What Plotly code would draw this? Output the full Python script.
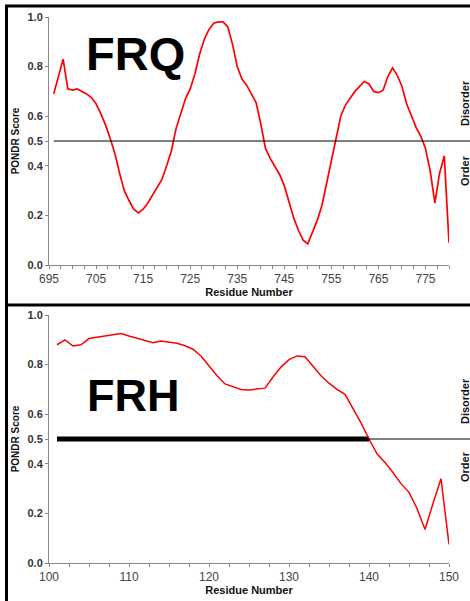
import plotly.graph_objects as go

# ---------------- data ----------------
frq_residues = list(range(696, 781))
frq_scores = [
    0.69, 0.76, 0.83, 0.71, 0.705, 0.71, 0.70, 0.69, 0.675, 0.65,   # 696-705
    0.61, 0.565, 0.51, 0.45, 0.37, 0.30, 0.26, 0.225, 0.21, 0.225,  # 706-715
    0.25, 0.28, 0.31, 0.345, 0.40, 0.46, 0.55, 0.61, 0.67, 0.71,    # 716-725
    0.77, 0.85, 0.91, 0.95, 0.975, 0.98, 0.98, 0.96, 0.89, 0.80,    # 726-735
    0.75, 0.725, 0.69, 0.655, 0.57, 0.47, 0.43, 0.395, 0.365, 0.32, # 736-745
    0.25, 0.19, 0.14, 0.10, 0.085, 0.13, 0.18, 0.24, 0.33, 0.43,    # 746-755
    0.52, 0.60, 0.645, 0.675, 0.70, 0.72, 0.74, 0.73, 0.70, 0.695,  # 756-765
    0.705, 0.76, 0.795, 0.765, 0.72, 0.65, 0.60, 0.555, 0.52, 0.47, # 766-775
    0.38, 0.25, 0.37, 0.44, 0.09,                                   # 776-780
]

frh_residues = list(range(101, 151))
frh_scores = [
    0.88, 0.90, 0.875, 0.88, 0.905, 0.91, 0.915, 0.92, 0.925, 0.915,  # 101-110
    0.905, 0.895, 0.888, 0.895, 0.892, 0.886, 0.876, 0.862, 0.835, 0.795,  # 111-120
    0.755, 0.722, 0.71, 0.70, 0.698, 0.70, 0.705, 0.75, 0.79, 0.82,   # 121-130
    0.835, 0.832, 0.795, 0.755, 0.725, 0.70, 0.68, 0.625, 0.565, 0.50,  # 131-140
    0.44, 0.405, 0.365, 0.32, 0.285, 0.22, 0.135, 0.24, 0.34, 0.075,  # 141-150
]

frh_disorder_region = [101, 140]   # long disordered stretch marked with a thick bar

threshold = 0.5
y_tickvals = [0.0, 0.2, 0.4, 0.5, 0.6, 0.8, 1.0]
y_ticktext = ["0.0", "0.2", "0.4", "0.5", "0.6", "0.8", "1.0"]
frq_range = [695, 780]
frh_range = [100, 150]
panel_names = ["FRQ", "FRH"]

# ---------------- layout geometry ----------------
W, H = 470, 601
ML, MR, MT, MB = 49, 21, 17, 38
PW = W - ML - MR
PH = H - MT - MB


def px_x(px):
    return (px - ML) / PW


def px_y(py):
    return 1 - (py - MT) / PH


top_dom = [px_y(265), 1.0]
bot_dom = [0.0, px_y(315)]

FONT = "Liberation Sans, Arial, Helvetica, sans-serif"
RED = "#ff0000"
AXC = "#8a8a8a"
TXT = "#333333"

fig = go.Figure()

# thick bar over the disordered region (FRH)
fig.add_trace(go.Scatter(
    x=frh_disorder_region, y=[threshold, threshold], xaxis="x2", yaxis="y2",
    mode="lines", line=dict(color="black", width=5), hoverinfo="skip", showlegend=False))

fig.add_trace(go.Scatter(
    x=frq_residues, y=frq_scores, xaxis="x", yaxis="y",
    mode="lines", line=dict(color=RED, width=1.7), showlegend=False))
fig.add_trace(go.Scatter(
    x=frh_residues, y=frh_scores, xaxis="x2", yaxis="y2",
    mode="lines", line=dict(color=RED, width=1.5), showlegend=False))


def xaxis_cfg(rng, anchor):
    return dict(
        range=rng, anchor=anchor, domain=[0, 1],
        tick0=rng[0], dtick=10, ticks="outside", ticklen=3, tickwidth=1, tickcolor=AXC,
        minor=dict(dtick=2.5, tick0=rng[0], ticks="outside", ticklen=3, tickcolor=AXC),
        showline=True, linecolor=AXC, linewidth=1, showgrid=False, zeroline=False,
        tickfont=dict(family=FONT, size=12, color="#444444"),
        title=dict(text="<b>Residue Number</b>", standoff=2,
                   font=dict(family=FONT, size=11, color="#111111")),
    )


def yaxis_cfg(dom, anchor):
    return dict(
        range=[0, 1], domain=dom, anchor=anchor,
        tickvals=y_tickvals, ticktext=[f"<b>{t}</b>" for t in y_ticktext],
        ticks="outside", ticklen=3, tickwidth=1, tickcolor=AXC,
        showline=True, linecolor=AXC, linewidth=1, showgrid=False, zeroline=False,
        tickfont=dict(family=FONT, size=11, color=TXT),
        title=dict(text="<b>PONDR Score</b>", standoff=6,
                   font=dict(family=FONT, size=10, color="#111111")),
    )


shapes = []
# threshold lines running to the right edge of the picture
for first, rng, yref in [(frq_residues[0], frq_range, "y domain"),
                         (frh_residues[0], frh_range, "y2 domain")]:
    x0 = (first - rng[0]) / (rng[1] - rng[0])
    shapes.append(dict(type="line", xref="paper", yref=yref,
                       x0=x0, x1=px_x(W), y0=threshold, y1=threshold,
                       line=dict(color="black", width=1)))

# frame lines (thick black border)
shapes += [
    dict(type="line", xref="paper", yref="paper", x0=px_x(5), x1=px_x(W),
         y0=px_y(6), y1=px_y(6), line=dict(color="black", width=3)),
    dict(type="line", xref="paper", yref="paper", x0=px_x(5), x1=px_x(W),
         y0=px_y(305), y1=px_y(305), line=dict(color="black", width=3)),
    dict(type="line", xref="paper", yref="paper", x0=px_x(6.5), x1=px_x(6.5),
         y0=px_y(5), y1=px_y(H), line=dict(color="black", width=3)),
]

annotations = []
# panel names
annotations.append(dict(text=f"<b>{panel_names[0]}</b>", xref="paper", yref="paper",
                        x=px_x(135), y=px_y(54), showarrow=False,
                        font=dict(family=FONT, size=47, color="black"),
                        xanchor="center", yanchor="middle"))
annotations.append(dict(text=f"<b>{panel_names[1]}</b>", xref="paper", yref="paper",
                        x=px_x(133), y=px_y(395), showarrow=False,
                        font=dict(family=FONT, size=45, color="black"),
                        xanchor="center", yanchor="middle"))
# Disorder / Order side labels
for yd, yo in [(103, 171), (401, 467)]:
    annotations.append(dict(text="<b>Disorder</b>", xref="paper", yref="paper",
                            x=px_x(465), y=px_y(yd), showarrow=False, textangle=-90,
                            font=dict(family=FONT, size=11, color="#111111"),
                            xanchor="center", yanchor="middle"))
    annotations.append(dict(text="<b>Order</b>", xref="paper", yref="paper",
                            x=px_x(465), y=px_y(yo), showarrow=False, textangle=-90,
                            font=dict(family=FONT, size=11, color="#111111"),
                            xanchor="center", yanchor="middle"))

fig.update_layout(
    width=W, height=H,
    margin=dict(l=ML, r=MR, t=MT, b=MB, autoexpand=False),
    paper_bgcolor="white", plot_bgcolor="white",
    xaxis=xaxis_cfg(frq_range, "y"),
    yaxis=yaxis_cfg(top_dom, "x"),
    xaxis2=xaxis_cfg(frh_range, "y2"),
    yaxis2=yaxis_cfg(bot_dom, "x2"),
    shapes=shapes, annotations=annotations,
    showlegend=False,
)

fig.write_html("out.html",
               config={"displayModeBar": False},
               post_script="document.body.style.margin='0px';document.body.style.overflow='hidden';")
